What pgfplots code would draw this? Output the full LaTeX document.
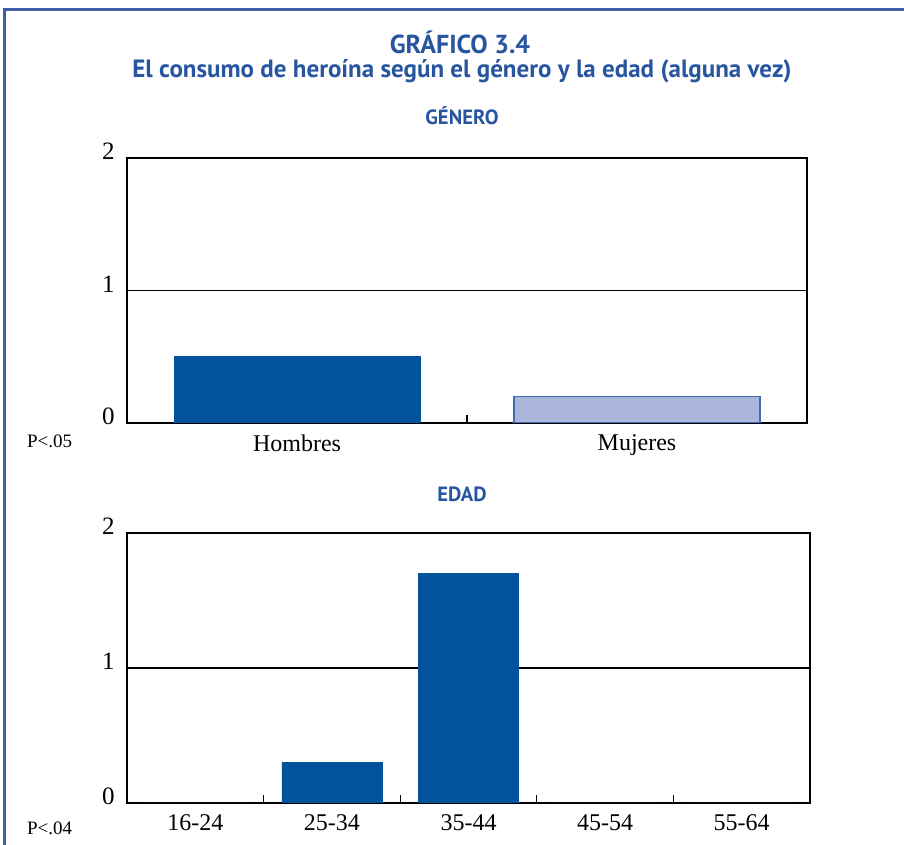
\documentclass[border=0pt]{standalone}
\usepackage{pgfplots}
\pgfplotsset{compat=1.18}
\usepackage{fontspec}
\setmainfont{Liberation Serif}
\newfontfamily\titlefont{PT Sans}

\definecolor{frameblue}{RGB}{60,95,170}
\definecolor{titleblue}{RGB}{40,85,160}
\definecolor{barblue}{RGB}{2,82,156}
\definecolor{lightbar}{RGB}{169,182,217}
\definecolor{lightedge}{RGB}{60,110,180}

\pgfplotsset{
  panel/.style={
    scale only axis,
    anchor=south west,
    ymin=0, ymax=2, ytick={0,1,2},
    ymajorgrids,
    grid style={black, line width=0.8pt},
    axis line style={line width=0.8pt},
    major tick length=0pt,
    tick align=inside,
    xtick pos=bottom, ytick pos=left,
    yticklabel style={anchor=base east, inner sep=0pt, xshift=-6pt, yshift=-1pt,
      font=\fontsize{12.5}{14}\selectfont},
    xticklabel style={font=\fontsize{12}{14}\selectfont, yshift=-2.5pt},
    extra x tick style={grid=none, major tick length=4pt, tick align=inside,
      tick style={black, line width=0.6pt}},
    extra x tick labels={},
    /pgf/number format/assume math mode=true,
    ybar, bar shift=0pt,
  }
}

\begin{document}
\begin{tikzpicture}
\path[use as bounding box] (0,0) rectangle (452pt,422.5pt);

% marco
\draw[frameblue, line width=1.5pt] (2pt,0) -- (2pt,417.75pt) -- (452pt,417.75pt);

% titulos
\node[titleblue, font=\titlefont\bfseries\fontsize{13}{15}\selectfont] at (230pt,401.5pt) {GRÁFICO 3.4};
\node[titleblue, font=\titlefont\bfseries\fontsize{12.5}{15}\selectfont] at (231pt,387pt) {El consumo de heroína según el género y la edad (alguna vez)};
\node[titleblue, font=\titlefont\bfseries\fontsize{10.3}{12}\selectfont] at (231pt,364.5pt) {GÉNERO};
\node[titleblue, font=\titlefont\bfseries\fontsize{10.3}{12}\selectfont] at (231pt,175.5pt) {EDAD};

% genero
\begin{axis}[panel,
  at={(63.5pt,211pt)}, width=340pt, height=132.5pt,
  xmin=-0.5, xmax=1.5,
  xtick={0,1}, xticklabels={Hombres,Mujeres},
  extra x ticks={0.5},
  bar width=123pt,
]
\addplot[fill=barblue, draw=barblue] coordinates {(0,0.5)};
\addplot[fill=lightbar, draw=lightedge, line width=0.6pt] coordinates {(1,0.2)};
\end{axis}
\node[anchor=west, font=\fontsize{9.5}{11}\selectfont] at (10pt,202pt) {P<.05};

% edad
\begin{axis}[panel,
  at={(63.5pt,21pt)}, width=341.5pt, height=135pt,
  xmin=-0.5, xmax=4.5,
  xtick={0,1,2,3,4}, xticklabels={16-24,25-34,35-44,45-54,55-64},
  extra x ticks={0.5,1.5,2.5,3.5},
  bar width=50pt,
]
\addplot[fill=barblue, draw=barblue] coordinates {(0,0) (1,0.3) (2,1.7) (3,0) (4,0)};
\end{axis}
\node[anchor=west, font=\fontsize{9.5}{11}\selectfont] at (10pt,8.5pt) {P<.04};
\end{tikzpicture}
\end{document}
